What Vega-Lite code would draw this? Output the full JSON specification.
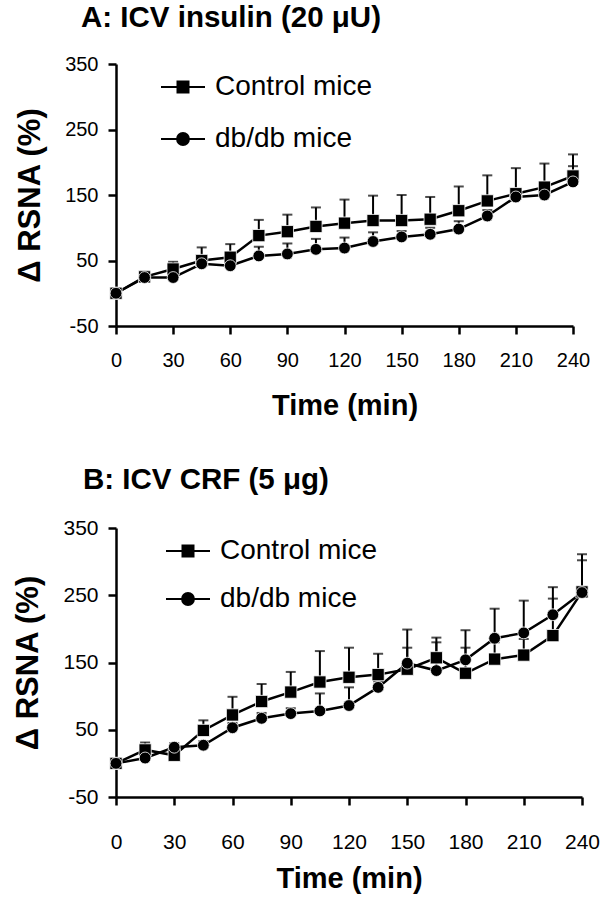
{
  "$schema": "https://vega.github.io/schema/vega-lite/v6.json",
  "background": "white",
  "padding": {"left": 12, "top": 2, "right": 5, "bottom": 5},
  "spacing": 44,
  "resolve": {"scale": {"shape": "independent"}, "legend": {"shape": "independent"}},
  "config": {
    "font": "Liberation Sans",
    "view": {"stroke": null},
    "axis": {
      "grid": false,
      "labelFlush": false,
      "labelOverlap": false,
      "domainColor": "black",
      "domainWidth": 2.5,
      "tickColor": "black",
      "tickWidth": 2.5,
      "tickSize": 8,
      "labelColor": "black",
      "labelFont": "Liberation Sans",
      "labelFontSize": 20,
      "titleFont": "Liberation Sans",
      "titleFontWeight": "bold",
      "titleFontSize": 29,
      "titleColor": "black"
    }
  },
  "datasets": {
    "A": [
      {"time": 0, "group": "Control mice", "value": 0, "hi": 0},
      {"time": 15, "group": "Control mice", "value": 25, "hi": 33},
      {"time": 30, "group": "Control mice", "value": 37, "hi": 48},
      {"time": 45, "group": "Control mice", "value": 50, "hi": 70},
      {"time": 60, "group": "Control mice", "value": 55, "hi": 75},
      {"time": 75, "group": "Control mice", "value": 88, "hi": 112},
      {"time": 90, "group": "Control mice", "value": 94, "hi": 120},
      {"time": 105, "group": "Control mice", "value": 102, "hi": 131},
      {"time": 120, "group": "Control mice", "value": 107, "hi": 143},
      {"time": 135, "group": "Control mice", "value": 111, "hi": 149},
      {"time": 150, "group": "Control mice", "value": 111, "hi": 150},
      {"time": 165, "group": "Control mice", "value": 113, "hi": 147},
      {"time": 180, "group": "Control mice", "value": 126, "hi": 163},
      {"time": 195, "group": "Control mice", "value": 141, "hi": 180},
      {"time": 210, "group": "Control mice", "value": 152, "hi": 191},
      {"time": 225, "group": "Control mice", "value": 162, "hi": 198},
      {"time": 240, "group": "Control mice", "value": 179, "hi": 212},
      {"time": 0, "group": "db/db mice", "value": 0, "hi": 0},
      {"time": 15, "group": "db/db mice", "value": 24, "hi": 30},
      {"time": 30, "group": "db/db mice", "value": 24, "hi": 29},
      {"time": 45, "group": "db/db mice", "value": 45, "hi": 52},
      {"time": 60, "group": "db/db mice", "value": 42, "hi": 49},
      {"time": 75, "group": "db/db mice", "value": 57, "hi": 71},
      {"time": 90, "group": "db/db mice", "value": 60, "hi": 76},
      {"time": 105, "group": "db/db mice", "value": 67, "hi": 83},
      {"time": 120, "group": "db/db mice", "value": 69, "hi": 85},
      {"time": 135, "group": "db/db mice", "value": 79, "hi": 93},
      {"time": 150, "group": "db/db mice", "value": 86, "hi": 95},
      {"time": 165, "group": "db/db mice", "value": 90, "hi": 100},
      {"time": 180, "group": "db/db mice", "value": 98, "hi": 110},
      {"time": 195, "group": "db/db mice", "value": 118, "hi": 127},
      {"time": 210, "group": "db/db mice", "value": 147, "hi": 155},
      {"time": 225, "group": "db/db mice", "value": 150, "hi": 158},
      {"time": 240, "group": "db/db mice", "value": 170, "hi": 194}
    ],
    "B": [
      {"time": 0, "group": "Control mice", "value": 0, "hi": 0},
      {"time": 15, "group": "Control mice", "value": 20, "hi": 31},
      {"time": 30, "group": "Control mice", "value": 12, "hi": 18},
      {"time": 45, "group": "Control mice", "value": 49, "hi": 64},
      {"time": 60, "group": "Control mice", "value": 72, "hi": 99},
      {"time": 75, "group": "Control mice", "value": 92, "hi": 118},
      {"time": 90, "group": "Control mice", "value": 106, "hi": 136},
      {"time": 105, "group": "Control mice", "value": 121, "hi": 167},
      {"time": 120, "group": "Control mice", "value": 128, "hi": 172},
      {"time": 135, "group": "Control mice", "value": 132, "hi": 163},
      {"time": 150, "group": "Control mice", "value": 140, "hi": 172},
      {"time": 165, "group": "Control mice", "value": 157, "hi": 187},
      {"time": 180, "group": "Control mice", "value": 134, "hi": 172},
      {"time": 195, "group": "Control mice", "value": 155, "hi": 180},
      {"time": 210, "group": "Control mice", "value": 161, "hi": 185},
      {"time": 225, "group": "Control mice", "value": 190, "hi": 245},
      {"time": 240, "group": "Control mice", "value": 255, "hi": 311},
      {"time": 0, "group": "db/db mice", "value": 0, "hi": 0},
      {"time": 15, "group": "db/db mice", "value": 8, "hi": 14},
      {"time": 30, "group": "db/db mice", "value": 24, "hi": 30},
      {"time": 45, "group": "db/db mice", "value": 27, "hi": 33},
      {"time": 60, "group": "db/db mice", "value": 53, "hi": 60},
      {"time": 75, "group": "db/db mice", "value": 67, "hi": 75},
      {"time": 90, "group": "db/db mice", "value": 74, "hi": 82},
      {"time": 105, "group": "db/db mice", "value": 78, "hi": 104},
      {"time": 120, "group": "db/db mice", "value": 86, "hi": 113},
      {"time": 135, "group": "db/db mice", "value": 113, "hi": 122},
      {"time": 150, "group": "db/db mice", "value": 149, "hi": 199},
      {"time": 165, "group": "db/db mice", "value": 138, "hi": 180},
      {"time": 180, "group": "db/db mice", "value": 154, "hi": 198},
      {"time": 195, "group": "db/db mice", "value": 186, "hi": 230},
      {"time": 210, "group": "db/db mice", "value": 194, "hi": 242},
      {"time": 225, "group": "db/db mice", "value": 221, "hi": 262},
      {"time": 240, "group": "db/db mice", "value": 254, "hi": 302}
    ]
  },
  "vconcat": [
    {
      "title": {"text": "A: ICV insulin (20 μU)", "anchor": "start", "frame": "group", "dx": -35, "fontSize": 29.5, "fontWeight": "bold", "font": "Liberation Sans", "color": "black", "offset": 21},
      "width": 457,
      "height": 262,
      "data": {"name": "A"},
      "encoding": {
        "x": {"field": "time", "type": "quantitative", "scale": {"domain": [0, 240], "nice": false}, "axis": {"values": [0, 30, 60, 90, 120, 150, 180, 210, 240], "title": "Time (min)", "labelPadding": 16, "titlePadding": 21}},
        "y": {"field": "value", "type": "quantitative", "scale": {"domain": [-50, 350], "nice": false}, "axis": {"values": [-50, 50, 150, 250, 350], "labelExpr": "'' + datum.value", "title": "Δ RSNA (%)", "titleFontSize": 31, "labelPadding": 10, "titlePadding": 18}}
      },
      "layer": [
        {"mark": {"type": "rule", "color": "black", "strokeWidth": 2}, "encoding": {"y2": {"field": "hi"}}},
        {"mark": {"type": "tick", "orient": "horizontal", "color": "black", "thickness": 2, "size": 10}, "encoding": {"y": {"field": "hi", "type": "quantitative"}}},
        {"mark": {"type": "line", "color": "black", "strokeWidth": 2.5}, "encoding": {"detail": {"field": "group", "type": "nominal"}}},
        {"transform": [{"filter": {"field": "group", "equal": "Control mice"}}],
         "mark": {"type": "point", "shape": "square", "filled": true, "fill": "black", "stroke": "white", "strokeWidth": 0.8, "opacity": 1, "size": 150}},
        {"transform": [{"filter": {"field": "group", "equal": "db/db mice"}}],
         "mark": {"type": "point", "shape": "circle", "filled": true, "fill": "black", "stroke": "white", "strokeWidth": 0.8, "opacity": 1, "size": 140}},
        {"mark": {"type": "point", "filled": false, "stroke": "black", "strokeWidth": 2, "opacity": 0},
         "encoding": {"shape": {"field": "group", "type": "nominal", "scale": {"domain": ["Control mice", "db/db mice"], "range": ["M-1,0H1M-0.25,-0.25H0.25V0.25H-0.25Z", "M-1,0H1M0.27,0C0.27,0.149,0.149,0.27,0,0.27C-0.149,0.27,-0.27,0.149,-0.27,0C-0.27,-0.149,-0.149,-0.27,0,-0.27C0.149,-0.27,0.27,-0.149,0.27,0Z"]},
           "legend": {"orient": "none", "legendX": 44, "legendY": 0, "title": null, "padding": 0, "rowPadding": 15, "symbolSize": 1936, "symbolFillColor": "black", "symbolStrokeColor": "black", "symbolStrokeWidth": 2, "symbolOpacity": 1, "labelFont": "Liberation Sans", "labelFontSize": 28, "labelColor": "black", "labelOffset": 9, "labelLimit": 400,
             "encoding": {"symbols": {"fill": {"value": "black"}, "stroke": {"value": "black"}, "strokeWidth": {"value": 2}, "opacity": {"value": 1}}}}}}}
      ]
    },
    {
      "title": {"text": "B: ICV CRF (5 μg)", "anchor": "start", "frame": "group", "dx": -33, "fontSize": 29.5, "fontWeight": "bold", "font": "Liberation Sans", "color": "black", "offset": 22},
      "width": 466,
      "height": 269,
      "data": {"name": "B"},
      "encoding": {
        "x": {"field": "time", "type": "quantitative", "scale": {"domain": [0, 240], "nice": false}, "axis": {"values": [0, 30, 60, 90, 120, 150, 180, 210, 240], "title": "Time (min)", "labelPadding": 26, "labelFontSize": 21, "titlePadding": 12}},
        "y": {"field": "value", "type": "quantitative", "scale": {"domain": [-50, 350], "nice": false}, "axis": {"values": [-50, 50, 150, 250, 350], "labelExpr": "'' + datum.value", "title": "Δ RSNA (%)", "titleFontSize": 31, "labelPadding": 10, "titlePadding": 18, "labelFontSize": 21}}
      },
      "layer": [
        {"mark": {"type": "rule", "color": "black", "strokeWidth": 2}, "encoding": {"y2": {"field": "hi"}}},
        {"mark": {"type": "tick", "orient": "horizontal", "color": "black", "thickness": 2, "size": 10}, "encoding": {"y": {"field": "hi", "type": "quantitative"}}},
        {"mark": {"type": "line", "color": "black", "strokeWidth": 2.5}, "encoding": {"detail": {"field": "group", "type": "nominal"}}},
        {"transform": [{"filter": {"field": "group", "equal": "Control mice"}}],
         "mark": {"type": "point", "shape": "square", "filled": true, "fill": "black", "stroke": "white", "strokeWidth": 0.8, "opacity": 1, "size": 150}},
        {"transform": [{"filter": {"field": "group", "equal": "db/db mice"}}],
         "mark": {"type": "point", "shape": "circle", "filled": true, "fill": "black", "stroke": "white", "strokeWidth": 0.8, "opacity": 1, "size": 140}},
        {"mark": {"type": "point", "filled": false, "stroke": "black", "strokeWidth": 2, "opacity": 0},
         "encoding": {"shape": {"field": "group", "type": "nominal", "scale": {"domain": ["Control mice", "db/db mice"], "range": ["M-1,0H1M-0.25,-0.25H0.25V0.25H-0.25Z", "M-1,0H1M0.27,0C0.27,0.149,0.149,0.27,0,0.27C-0.149,0.27,-0.27,0.149,-0.27,0C-0.27,-0.149,-0.149,-0.27,0,-0.27C0.149,-0.27,0.27,-0.149,0.27,0Z"]},
           "legend": {"orient": "none", "legendX": 49, "legendY": 0, "title": null, "padding": 0, "rowPadding": 11, "symbolSize": 1936, "symbolFillColor": "black", "symbolStrokeColor": "black", "symbolStrokeWidth": 2, "symbolOpacity": 1, "labelFont": "Liberation Sans", "labelFontSize": 28, "labelColor": "black", "labelOffset": 9, "labelLimit": 400,
             "encoding": {"symbols": {"fill": {"value": "black"}, "stroke": {"value": "black"}, "strokeWidth": {"value": 2}, "opacity": {"value": 1}}}}}}}
      ]
    }
  ]
}
